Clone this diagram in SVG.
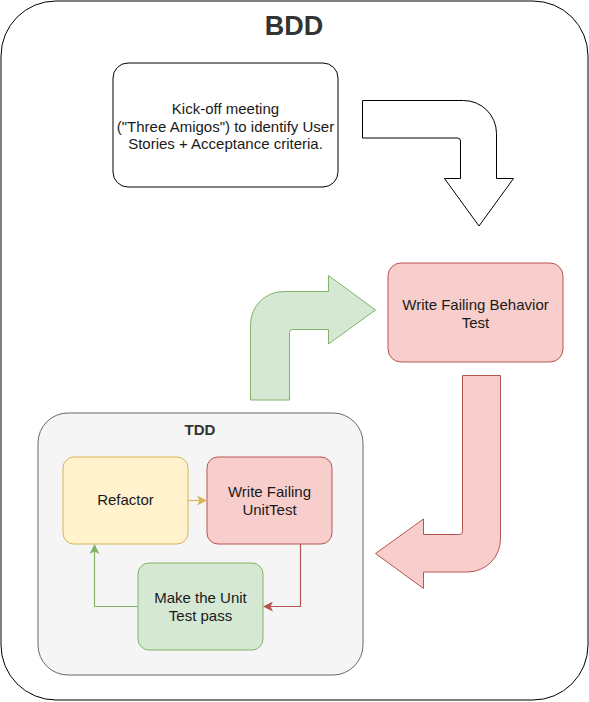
<svg xmlns="http://www.w3.org/2000/svg" width="589" height="702" viewBox="0 0 589 702">
<defs>
<style>
text{font-family:"Liberation Sans",Arial,sans-serif;font-size:15px;fill:#1a1a1a;text-anchor:middle}
.title{font-weight:bold;fill:#333333}
.red{fill:#f8cecc;stroke:#b85450;stroke-width:1}
.yellow{fill:#fff2cc;stroke:#d6b656;stroke-width:1}
.green{fill:#d5e8d4;stroke:#82b366;stroke-width:1}
.conn{fill:none;stroke-width:1.2}
</style>
<marker id="ay" viewBox="0 0 10 10" refX="9" refY="5" markerWidth="10" markerHeight="10" markerUnits="userSpaceOnUse" orient="auto"><path d="M0,0 L10,5 L0,10 L2.5,5 Z" fill="#d6b656"/></marker>
<marker id="ar" viewBox="0 0 10 10" refX="9" refY="5" markerWidth="10" markerHeight="10" markerUnits="userSpaceOnUse" orient="auto"><path d="M0,0 L10,5 L0,10 L2.5,5 Z" fill="#b85450"/></marker>
<marker id="ag" viewBox="0 0 10 10" refX="9" refY="5" markerWidth="10" markerHeight="10" markerUnits="userSpaceOnUse" orient="auto"><path d="M0,0 L10,5 L0,10 L2.5,5 Z" fill="#82b366"/></marker>
</defs>
<g id="bdd">
<rect x="1" y="1" width="587" height="699" rx="55" ry="55" fill="#ffffff" stroke="#000000"/>
<text class="title" x="294" y="35" style="font-size:27px">BDD</text>
</g>
<g id="kickoff">
<rect x="113" y="63" width="225" height="124" rx="15" ry="15" fill="#ffffff" stroke="#000000"/>
<text x="225.5" y="114">Kick-off meeting</text>
<text x="225.5" y="131.5">("Three Amigos") to identify User</text>
<text x="225.5" y="149">Stories + Acceptance criteria.</text>
</g>
<g id="behavior">
<rect class="red" x="388" y="263" width="175" height="99" rx="13" ry="13"/>
<text x="475.5" y="309.5">Write Failing Behavior</text>
<text x="475.5" y="327.5">Test</text>
</g>
<g id="tdd">
<rect x="38" y="413" width="325" height="262" rx="30" ry="30" fill="#f5f5f5" stroke="#666666"/>
<text class="title" x="200" y="435">TDD</text>
</g>
<g id="refactor">
<rect class="yellow" x="63" y="457" width="125" height="87" rx="11" ry="11"/>
<text x="125.5" y="505">Refactor</text>
</g>
<g id="unittest">
<rect class="red" x="207" y="457" width="125" height="87" rx="11" ry="11"/>
<text x="269.5" y="496.5">Write Failing</text>
<text x="269.5" y="514.5">UnitTest</text>
</g>
<g id="makepass">
<rect class="green" x="138" y="563" width="125" height="87" rx="11" ry="11"/>
<text x="200.5" y="602.5">Make the Unit</text>
<text x="200.5" y="620.5">Test pass</text>
</g>
<g id="connectors">
<path d="M362.5,100.5 L463.5,100.5 A33,33 0 0 1 496.5,133.5 L496.5,178.5 L513.5,178.5 L479,226 L444.5,178.5 L460.5,178.5 L460.5,141 Q460.5,138 457.5,138 L362.5,138 Z" fill="#ffffff" stroke="#000000"/>
<path d="M250.5,400 L250.5,324.5 A33,33 0 0 1 283.5,291.5 L328.5,291.5 L328.5,275.5 L375.5,310 L328.5,344 L328.5,329.5 L292.5,329.5 Q289.5,329.5 289.5,332.5 L289.5,400 Z" class="green"/>
<path d="M462.5,375.5 L500.5,375.5 L500.5,539 A33,33 0 0 1 467.5,572 L423.5,572 L423.5,588.5 L375.5,553.5 L423.5,519 L423.5,534.5 L459.5,534.5 Q462.5,534.5 462.5,531.5 Z" class="red"/>
<path class="conn" d="M188,500.5 L206,500.5" stroke="#d6b656" marker-end="url(#ay)"/>
<path class="conn" d="M300.5,544 L300.5,606.5 L264,606.5" stroke="#b85450" marker-end="url(#ar)"/>
<path class="conn" d="M138,606.5 L94.5,606.5 L94.5,545" stroke="#82b366" marker-end="url(#ag)"/>
</g>
</svg>
